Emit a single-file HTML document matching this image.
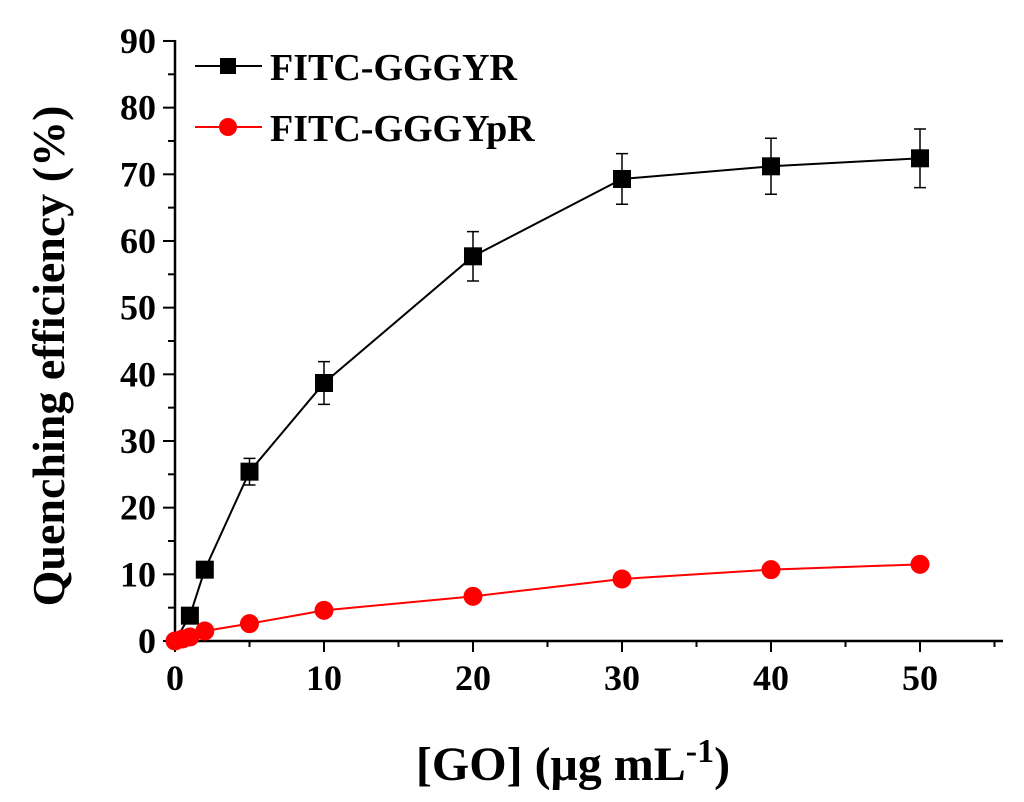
<!DOCTYPE html>
<html><head><meta charset="utf-8"><style>
body{margin:0;background:#fff}
svg text{font-family:"Liberation Serif",serif;font-weight:bold}
</style></head><body>
<svg id="chart" width="1024" height="797" viewBox="0 0 1024 797" xmlns="http://www.w3.org/2000/svg">
<g id="axes"></g><g id="series"></g>
<g>
<line x1="195" y1="66" x2="262" y2="66" stroke="#000" stroke-width="2"/>
<rect x="220" y="58" width="16" height="16" fill="#000"/>
<text x="270" y="80" font-size="38">FITC-GGGYR</text>
<line x1="195" y1="127" x2="262" y2="127" stroke="#f00" stroke-width="2"/>
<circle cx="228" cy="127" r="9" fill="#f00"/>
<text x="270" y="141" font-size="38">FITC-GGGYpR</text>
</g>
<text transform="translate(64,356) rotate(-90)" text-anchor="middle" font-size="46">Quenching efficiency (%)</text>
<text x="573" y="780" text-anchor="middle" font-size="48">[GO] (μg mL<tspan dy="-18" font-size="34">-1</tspan><tspan dy="18">)</tspan></text>
</svg>
<script>
const xs = [0,1,2,5,10,20,30,40,50];
const blackY = [0,3.8,10.7,25.4,38.7,57.7,69.3,71.2,72.4];
const blackErr = [0,0,0,2.0,3.2,3.7,3.8,4.2,4.4];
const redX = [0,0.5,1,2,5,10,20,30,40,50];
const redY = [0,0.3,0.6,1.5,2.6,4.6,6.7,9.3,10.7,11.5];
const xTicks = [0,10,20,30,40,50];
const yTicks = [0,10,20,30,40,50,60,70,80,90];
const NS="http://www.w3.org/2000/svg";
const X=v=>175+v*14.9, Y=v=>641-v*6.667;
function mk(t,a,p){const e=document.createElementNS(NS,t);for(const k in a)e.setAttribute(k,a[k]);p.appendChild(e);return e;}
const ax=document.getElementById('axes'), se=document.getElementById('series');
let l=mk('line',{x1:175,y1:641,x2:1003,y2:641,stroke:'#000','stroke-width':2.5},ax);


l=mk('line',{x1:175,y1:641,x2:175,y2:40,stroke:'#000','stroke-width':2.5},ax);


for(let v=0;v<=55;v+=5){const maj=v%10===0;mk('line',{x1:X(v),y1:641,x2:X(v),y2:maj?652:647,stroke:'#000','stroke-width':2},ax);}
xTicks.forEach(v=>{const t=mk('text',{x:X(v),y:690,'text-anchor':'middle','font-size':36},ax);t.textContent=v;

});
for(let v=0;v<=90;v+=5){const maj=v%10===0;mk('line',{x1:maj?163:168,y1:Y(v),x2:175,y2:Y(v),stroke:'#000','stroke-width':2},ax);}
yTicks.forEach(v=>{const t=mk('text',{x:156,y:Y(v)+12,'text-anchor':'end','font-size':36},ax);t.textContent=v;

});
let p=mk('polyline',{points:xs.map((x,i)=>X(x)+','+Y(blackY[i])).join(' '),fill:'none',stroke:'#000','stroke-width':2},se);


xs.forEach((x,i)=>{if(blackErr[i]>0){const cx=X(x),t=Y(blackY[i]+blackErr[i]),b=Y(blackY[i]-blackErr[i]);
mk('path',{d:`M${cx},${t}V${b}M${cx-6},${t}H${cx+6}M${cx-6},${b}H${cx+6}`,stroke:'#000','stroke-width':1.5,fill:'none'},se);}});
xs.forEach((x,i)=>{if(i===0)return;const r=mk('rect',{x:X(x)-9,y:Y(blackY[i])-9,width:18,height:18,fill:'#000'},se);

});
p=mk('polyline',{points:redX.map((x,i)=>X(x)+','+Y(redY[i])).join(' '),fill:'none',stroke:'#f00','stroke-width':2},se);


redX.forEach((x,i)=>{const c=mk('circle',{cx:X(x),cy:Y(redY[i]),r:9.5,fill:'#f00'},se);

});
</script>
</body></html>
